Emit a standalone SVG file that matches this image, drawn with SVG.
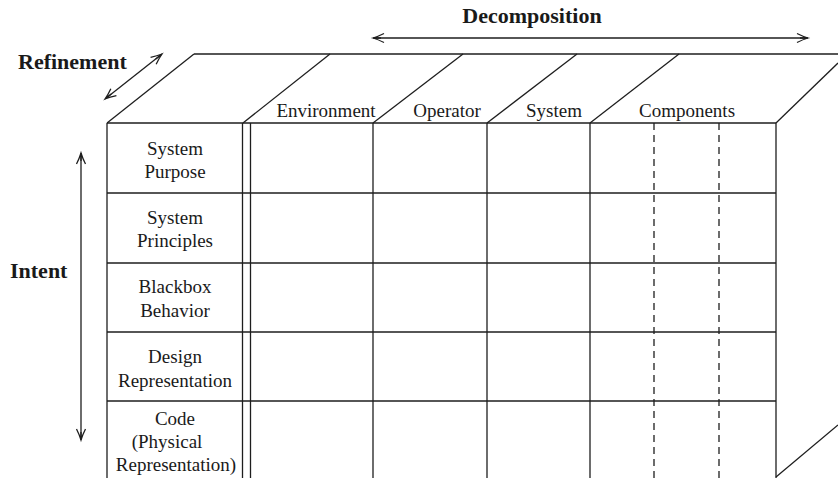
<svg xmlns="http://www.w3.org/2000/svg" width="838" height="478" viewBox="0 0 838 478">
  <style>
    .ln { stroke: #1e1e1e; stroke-width: 1.3; fill: none; }
    .dash { stroke: #1e1e1e; stroke-width: 1.3; fill: none; stroke-dasharray: 7 5; }
    .lbl { font-family: "Liberation Serif", "Times New Roman", serif; font-size: 19px; fill: #1a1a1a; text-anchor: middle; }
    .big { font-family: "Liberation Serif", "Times New Roman", serif; font-size: 22px; font-weight: bold; fill: #1a1a1a; }
  </style>
  <defs>
    <marker id="ah" markerUnits="userSpaceOnUse" markerWidth="20" markerHeight="20" refX="0" refY="0" orient="auto-start-reverse" overflow="visible">
      <path d="M -11,-4.5 Q -5,-1.5 0,0 Q -5,1.5 -11,4.5 M -8,0 L 0,0" stroke="#1e1e1e" stroke-width="1.3" fill="none"/>
    </marker>
  </defs>
  <rect width="838" height="478" fill="#ffffff"/>

  <g id="box">
    <line class="ln" x1="107" y1="123" x2="776" y2="123"/>
    <line class="ln" x1="194" y1="54" x2="838" y2="54"/>
    <line class="ln" x1="107" y1="123" x2="194" y2="54"/>
    <line class="ln" x1="243" y1="123" x2="330" y2="54"/>
    <line class="ln" x1="373" y1="123" x2="463" y2="54"/>
    <line class="ln" x1="487" y1="123" x2="577" y2="54"/>
    <line class="ln" x1="590" y1="123" x2="679" y2="54"/>
    <line class="ln" x1="776" y1="123" x2="838" y2="63"/>
    <line class="ln" x1="776" y1="477" x2="838" y2="425"/>
    <line class="ln" x1="107" y1="123" x2="107" y2="478"/>
    <line class="ln" x1="242.5" y1="123" x2="242.5" y2="478"/>
    <line class="ln" x1="250.5" y1="123" x2="250.5" y2="478"/>
    <line class="ln" x1="373" y1="123" x2="373" y2="478"/>
    <line class="ln" x1="487" y1="123" x2="487" y2="478"/>
    <line class="ln" x1="590" y1="123" x2="590" y2="478"/>
    <line class="ln" x1="776" y1="123" x2="776" y2="478"/>
    <line class="ln" x1="107" y1="193" x2="776" y2="193"/>
    <line class="ln" x1="107" y1="263" x2="776" y2="263"/>
    <line class="ln" x1="107" y1="332" x2="776" y2="332"/>
    <line class="ln" x1="107" y1="401" x2="776" y2="401"/>
    <line class="dash" x1="654" y1="123" x2="654" y2="478"/>
    <line class="dash" x1="719" y1="123" x2="719" y2="478"/>
  </g>

  <g id="connectors">
    <line class="ln" x1="373" y1="38" x2="808" y2="38" marker-start="url(#ah)" marker-end="url(#ah)"/>
    <line class="ln" x1="81" y1="153" x2="81" y2="440" marker-start="url(#ah)" marker-end="url(#ah)"/>
    <line class="ln" x1="105" y1="99" x2="162" y2="54" marker-start="url(#ah)" marker-end="url(#ah)"/>
  </g>

  <g id="axis-labels">
    <text class="big" x="532" y="23" text-anchor="middle">Decomposition</text>
    <text class="big" x="18" y="69">Refinement</text>
    <text class="big" x="10" y="278">Intent</text>
  </g>

  <g id="col-environment"><text class="lbl" x="326" y="117">Environment</text></g>
  <g id="col-operator"><text class="lbl" x="447" y="117">Operator</text></g>
  <g id="col-system"><text class="lbl" x="554" y="117">System</text></g>
  <g id="col-components"><text class="lbl" x="687" y="117">Components</text></g>

  <g id="row-purpose">
    <text class="lbl" x="175" y="155">System</text>
    <text class="lbl" x="175" y="178">Purpose</text>
  </g>
  <g id="row-principles">
    <text class="lbl" x="175" y="224">System</text>
    <text class="lbl" x="175" y="247">Principles</text>
  </g>
  <g id="row-blackbox">
    <text class="lbl" x="175" y="293">Blackbox</text>
    <text class="lbl" x="175" y="317">Behavior</text>
  </g>
  <g id="row-design">
    <text class="lbl" x="175" y="363">Design</text>
    <text class="lbl" x="175" y="387">Representation</text>
  </g>
  <g id="row-code">
    <text class="lbl" x="175" y="425">Code</text>
    <text class="lbl" x="167" y="448">(Physical</text>
    <text class="lbl" x="176" y="471">Representation)</text>
  </g>
</svg>
